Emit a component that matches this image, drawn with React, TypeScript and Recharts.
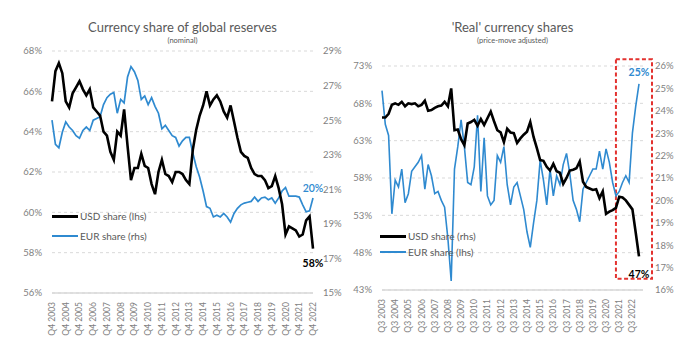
import React from 'react';
import { LineChart, Line, XAxis, YAxis, CartesianGrid, ReferenceArea, LabelList } from 'recharts';

// ---------- Left panel: nominal shares (Q4 2003 .. Q4 2022) ----------
const NOM_QUARTERS: string[] = Array.from({ length: 77 }, (_, i) => `Q${((3 + i) % 4) + 1} ${2003 + Math.floor((3 + i) / 4)}`);
const USD_NOMINAL = [
  65.5, 67.0, 67.4, 66.9, 65.5, 65.2, 65.9, 66.2, 66.5, 66.1,
  65.8, 66.1, 65.2, 65.0, 64.8, 64.0, 63.8, 63.0, 62.6, 64.0,
  63.8, 65.1, 63.3, 61.6, 62.2, 62.2, 62.9, 62.3, 62.2, 61.4,
  60.9, 62.0, 62.6, 61.9, 61.8, 61.5, 62.0, 62.0, 61.9, 61.6,
  61.4, 63.1, 64.1, 64.8, 65.3, 66.0, 65.3, 65.6, 65.8, 65.5,
  65.0, 64.7, 65.3, 64.5, 63.7, 63.0, 62.8, 62.7, 62.2, 61.9,
  61.8, 61.8, 61.6, 61.2, 61.3, 61.8, 61.2, 60.4, 58.9, 59.3,
  59.2, 59.1, 58.8, 58.9, 59.6, 59.8, 58.2,
];
const EUR_NOMINAL = [
  25.0, 23.6, 23.4, 24.3, 24.9, 24.6, 24.4, 24.1, 23.95, 24.4,
  24.6, 24.4, 25.0, 25.1, 25.2, 25.9, 26.3, 26.5, 26.6, 25.4,
  26.2, 26.0, 27.5, 28.1, 27.8, 27.3, 26.2, 26.4, 25.9, 26.3,
  25.8, 25.4, 24.5, 24.7, 24.4, 24.1, 24.0, 23.5, 23.8, 24.0,
  24.0, 23.1, 22.3, 21.7, 20.9, 20.0, 19.9, 19.4, 19.5, 19.4,
  19.6, 19.4, 19.1, 19.6, 19.9, 20.1, 20.2, 20.25, 20.3, 20.55,
  20.3, 20.5, 20.55, 20.4, 20.5, 20.2, 20.5, 20.9, 21.1, 20.6,
  20.6, 20.6, 20.55, 20.1, 19.7, 19.75, 20.5,
];
const NOM_LEFT_TICKS = [56, 58, 60, 62, 64, 66, 68];
const NOM_RIGHT_TICKS = [15, 17, 19, 21, 23, 25, 27, 29];

// ---------- Right panel: 'real' shares (Q3 2003 .. Q1 2023) ----------
const REAL_QUARTERS: string[] = Array.from({ length: 79 }, (_, i) => `Q${((2 + i) % 4) + 1} ${2003 + Math.floor((2 + i) / 4)}`);
const USD_REAL = [
  66.1, 66.1, 66.6, 67.8, 68.0, 67.8, 68.2, 67.6, 68.0, 67.9,
  68.0, 67.6, 67.8, 68.35, 67.0, 67.1, 67.4, 67.6, 67.7, 68.2,
  67.6, 70.0, 64.4, 64.5, 63.2, 62.4, 65.3, 65.5, 65.8, 65.0,
  65.9, 65.1, 66.0, 66.9, 65.6, 64.4, 64.1, 62.8, 64.6, 64.1,
  64.0, 62.7, 63.3, 63.8, 64.2, 65.5, 63.5, 62.0, 60.4, 60.3,
  59.5, 59.0, 59.9, 58.9, 58.7, 57.2, 58.0, 59.0, 59.1, 59.3,
  60.2, 57.5, 56.8, 56.6, 56.4, 56.5, 55.3, 56.2, 53.2, 53.5,
  53.7, 54.0, 55.5, 55.4, 55.0, 54.4, 53.8, 50.7, 47.5,
];
const EUR_REAL = [
  24.9, 23.4, 22.9, 19.4, 20.9, 20.6, 21.4, 19.9, 20.3, 21.3,
  21.5, 21.7, 22.0, 20.5, 21.6, 21.1, 20.3, 20.4, 20.0, 19.7,
  18.3, 16.4, 21.4, 22.4, 23.6, 22.4, 20.8, 20.7, 21.5, 23.8,
  20.4, 22.8, 20.2, 19.8, 20.0, 22.0, 21.7, 22.4, 20.7, 19.8,
  20.6, 20.8, 20.2, 19.6, 18.6, 17.9, 19.0, 20.0, 21.8, 20.9,
  19.8, 21.4, 20.2, 21.1, 20.7, 21.6, 22.1, 21.2, 20.0, 19.6,
  19.05, 20.5, 20.8, 21.1, 21.4, 21.4, 22.2, 21.4, 22.3, 21.7,
  20.8, 20.2, 20.4, 20.8, 21.1, 20.8, 23.0, 24.2, 25.2,
];
const REAL_LEFT_TICKS = [43, 48, 53, 58, 63, 68, 73];
const REAL_RIGHT_TICKS = [16, 17, 18, 19, 20, 21, 22, 23, 24, 25, 26];
const HIGHLIGHT_FROM = 'Q2 2021';
const HIGHLIGHT_TO = 'Q1 2023';

const nomData = NOM_QUARTERS.map((q, i) => ({ q, usd: USD_NOMINAL[i], eur: EUR_NOMINAL[i] }));
const realData = REAL_QUARTERS.map((q, i) => ({ q, usd: USD_REAL[i], eur: EUR_REAL[i] }));

const FONT = 'Lato, "Liberation Sans", sans-serif';
const BLACK = '#000000';
const BLUE = '#2f8ad0';
const AXIS_GREY = '#7f7f7f';
const TITLE_GREY = '#595959';
const GRID = '#d9d9d9';

const pct = (v: number) => `${v}%`;

const XTick = (props: any) => {
  const { x, y, payload } = props;
  return (
    <text x={x} y={y} transform={`rotate(-90 ${x} ${y})`} textAnchor="end" dominantBaseline="central"
      fontSize={8.5} fill={AXIS_GREY} fontFamily={FONT}>
      {payload.value}
    </text>
  );
};

const makeEndLabel = (lastIndex: number, text: string, color: string, dy: number, bold: boolean) => (props: any) => {
  const { x, y, index } = props;
  if (index !== lastIndex) return null;
  return (
    <text x={x} y={y + dy} textAnchor="middle" dominantBaseline="central" fontSize={10.5}
      fontWeight={bold ? 700 : 600} fill={color} fontFamily={FONT}>
      {text}
    </text>
  );
};

const LegendBox = ({ left, top, rows, rowGap }: { left: number; top: number; rows: { label: string; color: string }[]; rowGap: number }) => (
  <div style={{ position: 'absolute', left, top, fontFamily: FONT, fontSize: 10, color: TITLE_GREY }}>
    {rows.map((r) => (
      <div key={r.label} style={{ display: 'flex', alignItems: 'center', height: rowGap }}>
        <div style={{ width: 26, height: r.color === BLACK ? 3 : 2, background: r.color, marginRight: 2 }} />
        <span>{r.label}</span>
      </div>
    ))}
  </div>
);

const Title = ({ left, width, top, title, sub }: { left: number; width: number; top: number; title: string; sub: string }) => (
  <div style={{ position: 'absolute', left, top, width, textAlign: 'center', fontFamily: FONT, color: TITLE_GREY }}>
    <div style={{ fontSize: 13, lineHeight: '16px' }}>{title}</div>
    <div style={{ fontSize: 7.5, lineHeight: '12px' }}>{sub}</div>
  </div>
);

const RedBox = (props: any) => {
  const { x, y, width, height } = props;
  return <rect x={x} y={y} width={width + 13} height={height} fill="none" stroke="#e3322f" strokeWidth={2} strokeDasharray="4 2.5" />;
};

export default function App() {
  return (
    <div style={{ position: 'absolute', left: 0, top: 0, width: 700, height: 354, background: '#fff', overflow: 'hidden' }}>
      <Title left={52} width={261} top={19} title="Currency share of global reserves" sub="(nominal)" />
      <Title left={382} width={261} top={19} title="'Real' currency shares" sub="(price-move adjusted)" />

      <div style={{ position: 'absolute', left: 0, top: 0 }}>
        <LineChart width={350} height={354} data={nomData} margin={{ top: 51, right: 0, bottom: 16, left: 0 }}>
          <CartesianGrid yAxisId="left" vertical={false} stroke={GRID} strokeDasharray="3 3" />
          <XAxis dataKey="q" interval={3} height={45} tickLine={false} tickMargin={3}
            axisLine={{ stroke: GRID, strokeWidth: 1.5 }} tick={<XTick />} />
          <YAxis yAxisId="left" domain={[56, 68]} ticks={NOM_LEFT_TICKS} width={52} axisLine={false} tickLine={false}
            tickMargin={4} tickFormatter={pct} tick={{ fontSize: 9.5, fill: AXIS_GREY, fontFamily: FONT }} />
          <YAxis yAxisId="right" orientation="right" domain={[15, 29]} ticks={NOM_RIGHT_TICKS} width={37} axisLine={false}
            tickLine={false} tickMargin={4} tickFormatter={pct} tick={{ fontSize: 9.5, fill: AXIS_GREY, fontFamily: FONT }} />
          <Line yAxisId="right" dataKey="eur" stroke={BLUE} strokeWidth={1.7} dot={false} isAnimationActive={false}>
            <LabelList dataKey="eur" content={makeEndLabel(EUR_NOMINAL.length - 1, '20%', BLUE, -10, false)} />
          </Line>
          <Line yAxisId="left" dataKey="usd" stroke={BLACK} strokeWidth={2.6} dot={false} isAnimationActive={false}>
            <LabelList dataKey="usd" content={makeEndLabel(USD_NOMINAL.length - 1, '58%', BLACK, 14, true)} />
          </Line>
        </LineChart>
      </div>

      <div style={{ position: 'absolute', left: 340, top: 0 }}>
        <LineChart width={360} height={354} data={realData} margin={{ top: 66, right: 0, bottom: 19, left: 0 }}>
          <CartesianGrid yAxisId="left" vertical={false} stroke={GRID} strokeDasharray="3 3" />
          <XAxis dataKey="q" interval={3} height={45} tickLine={false} tickMargin={3} padding={{ left: 0, right: 4 }}
            axisLine={{ stroke: GRID, strokeWidth: 1.5 }} tick={<XTick />} />
          <YAxis yAxisId="left" domain={[43, 73]} ticks={REAL_LEFT_TICKS} width={42} axisLine={false} tickLine={false}
            tickMargin={4} tickFormatter={pct} tick={{ fontSize: 9.5, fill: AXIS_GREY, fontFamily: FONT }} />
          <YAxis yAxisId="right" orientation="right" domain={[16, 26]} ticks={REAL_RIGHT_TICKS} width={57} axisLine={false}
            tickLine={false} tickMargin={6} tickFormatter={pct} tick={{ fontSize: 9.5, fill: AXIS_GREY, fontFamily: FONT }} />
          <Line yAxisId="right" dataKey="eur" stroke={BLUE} strokeWidth={1.6} dot={false} isAnimationActive={false}>
            <LabelList dataKey="eur" content={makeEndLabel(EUR_REAL.length - 1, '25%', BLUE, -12, true)} />
          </Line>
          <Line yAxisId="left" dataKey="usd" stroke={BLACK} strokeWidth={2.6} dot={false} isAnimationActive={false}>
            <LabelList dataKey="usd" content={makeEndLabel(USD_REAL.length - 1, '47%', BLACK, 18, true)} />
          </Line>
          <ReferenceArea yAxisId="left" x1={HIGHLIGHT_FROM} x2={HIGHLIGHT_TO} y1={44.5} y2={73.9} ifOverflow="visible"
            shape={<RedBox />} />
        </LineChart>
      </div>

      <LegendBox left={52} top={206} rowGap={20}
        rows={[{ label: 'USD share (lhs)', color: BLACK }, { label: 'EUR share (rhs)', color: BLUE }]} />
      <LegendBox left={380} top={228} rowGap={16}
        rows={[{ label: 'USD share (rhs)', color: BLACK }, { label: 'EUR share (lhs)', color: BLUE }]} />
    </div>
  );
}
